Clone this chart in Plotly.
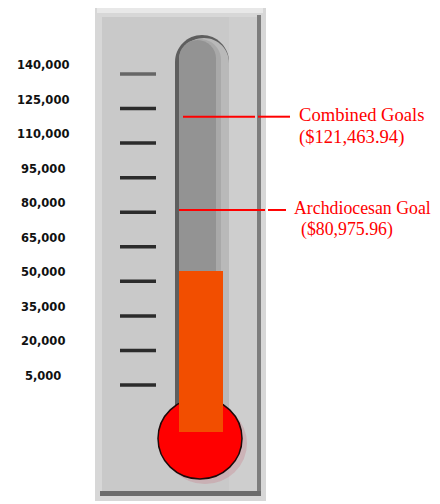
import plotly.graph_objects as go

# ---- data ----
tick_values = [140000, 125000, 110000, 95000, 80000, 65000, 50000, 35000, 20000, 5000]
goal_names = ["Combined Goals", "Archdiocesan Goal"]
goal_values = [121463.94, 80975.96]
raised_value = [54500]

# ---- layout constants ----
# The page body has an 8px margin, so the figure is drawn 8px in from the window edge.
OFF = 8
W, H = 440 - OFF, 504 - OFF
PX_TOP_TICK, PX_BOT_TICK = 74, 385          # window rows of the 140,000 and 5,000 ticks
px_per_unit = (PX_BOT_TICK - PX_TOP_TICK) / (tick_values[0] - tick_values[-1])
zero_px = PX_BOT_TICK + tick_values[-1] * px_per_unit
Y_TOP = (zero_px - OFF) / px_per_unit
Y_BOT = -(OFF + H - zero_px) / px_per_unit
BAR_BASE = -(432 - zero_px) / px_per_unit   # bar reaches down into the bulb


def P(y):
    return 1 - (y - OFF) / H


def rect(x0, x1, y0, y1, color, layer="below"):
    return dict(type="rect", xref="x", yref="paper", x0=x0, x1=x1, y0=P(y1), y1=P(y0),
                fillcolor=color, line=dict(width=0), layer=layer)


def tube(x0, x1, ytop, ybot, color):
    r = (x1 - x0) / 2
    cx, cy = x0 + r, ytop + r
    k = 0.5523 * r
    d = (f"M {x0},{P(ybot)} L {x0},{P(cy)} "
         f"C {x0},{P(cy - k)} {cx - k},{P(ytop)} {cx},{P(ytop)} "
         f"C {cx + k},{P(ytop)} {x1},{P(cy - k)} {x1},{P(cy)} "
         f"L {x1},{P(ybot)} Z")
    return dict(type="path", xref="x", yref="paper", path=d, fillcolor=color,
                line=dict(width=0), layer="below")


shapes = [
    rect(95, 266, 4, 501, "#d7d7d7"),
    rect(97, 263, 6, 13, "#e8e8e8"),
    rect(102, 258, 17, 492, "#c9c9c9"),
    rect(229, 257, 17, 492, "#cecece"),
    rect(257, 261, 15, 495, "#7d7d7d"),
    rect(100, 261, 491, 496, "#6c6c6c"),
    tube(175, 229, 35, 408, "#5e5e5e"),
    tube(179, 229, 38, 408, "#b9b9b9"),
    tube(179, 221, 39, 408, "#a9a9a9"),
    tube(179, 216, 40, 408, "#939393"),
    dict(type="circle", xref="x", yref="paper", x0=163, x1=247, y0=P(484), y1=P(403),
         fillcolor="rgba(200,130,140,0.35)", line=dict(width=0), layer="below"),
    dict(type="circle", xref="x", yref="paper", x0=158, x1=242, y0=P(479), y1=P(398),
         fillcolor="#ff0000", line=dict(color="#1e0a0a", width=1.5), layer="below"),
]

# goal lines (two segments each, broken at the plate edge)
goal_segments = [[(183, 255), (258, 290)], [(179, 265), (268, 286)]]
for gv, segs in zip(goal_values, goal_segments):
    for x0, x1 in segs:
        shapes.append(dict(type="line", xref="x", yref="y", x0=x0, x1=x1, y0=gv, y1=gv,
                           line=dict(color="#ff0000", width=2), layer="above"))

fig = go.Figure()

# tick marks (line-ew marker spans 1.4 x size)
tick_colors = ["#666666"] + ["#2b2b2b"] * (len(tick_values) - 1)
fig.add_trace(go.Scatter(
    x=[138] * len(tick_values), y=tick_values, mode="markers",
    marker=dict(symbol="line-ew", size=36 / 1.4, line=dict(width=3.5, color=tick_colors)),
    hoverinfo="skip", showlegend=False))

# mercury bar
fig.add_trace(go.Bar(
    x=[201], y=[v - BAR_BASE for v in raised_value], base=[BAR_BASE] * len(raised_value),
    width=44, marker=dict(color="#f24e00", line=dict(width=0)),
    hoverinfo="skip", showlegend=False))

annotations = []
for v in tick_values:
    annotations.append(dict(x=43, y=v, xref="x", yref="y", text=f"{v:,}", showarrow=False,
                            xanchor="center", yanchor="middle", yshift=9,
                            font=dict(family="DejaVu Sans", size=11.5, color="#111111",
                                      weight="bold")))

label_x = [297, 292]
amount_x = [297, 299]
label_size = [18.6, 17.8]
for name, gv, lx, ax, fs in zip(goal_names, goal_values, label_x, amount_x, label_size):
    font = dict(family="Liberation Serif", size=fs, color="#ff0000")
    annotations.append(dict(x=lx, y=gv, xref="x", yref="y", text=name, showarrow=False,
                            xanchor="left", yanchor="middle", yshift=2, font=font))
    annotations.append(dict(x=ax, y=gv, xref="x", yref="y", text=f"(${gv:,.2f})",
                            showarrow=False, xanchor="left", yanchor="middle", yshift=-20,
                            font=font))

fig.update_layout(
    width=W, height=H, margin=dict(l=0, r=0, t=0, b=0),
    paper_bgcolor="white", plot_bgcolor="white",
    xaxis=dict(range=[OFF, OFF + W], visible=False, fixedrange=True),
    yaxis=dict(range=[Y_BOT, Y_TOP], visible=False, fixedrange=True),
    shapes=shapes, annotations=annotations, showlegend=False, bargap=0,
)

fig.write_html("out.html")
